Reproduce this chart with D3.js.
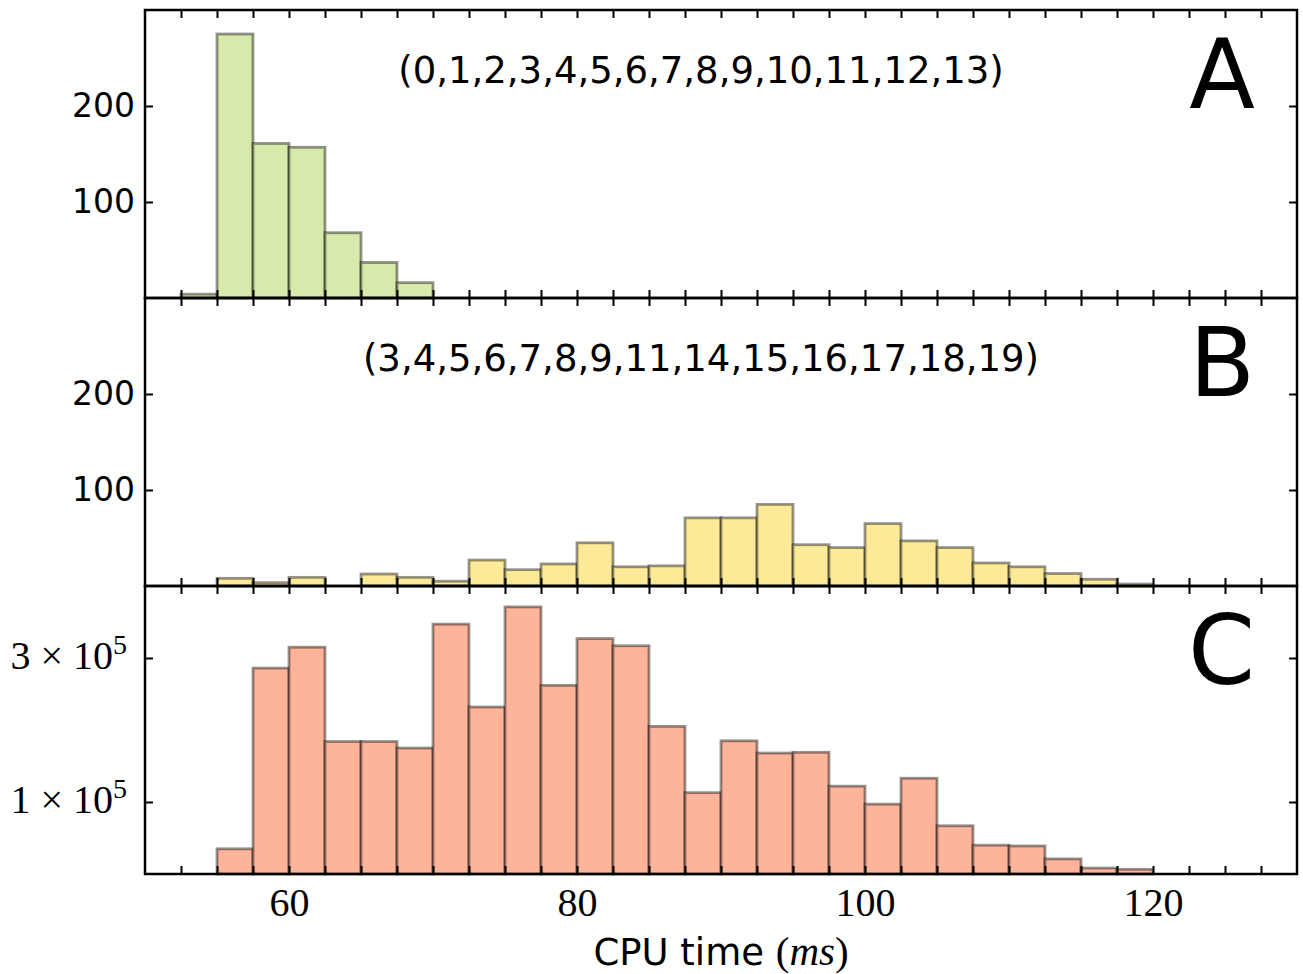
<!DOCTYPE html>
<html>
<head>
<meta charset="utf-8">
<script src="https://cdn.jsdelivr.net/npm/d3@7"></script>
<style>
  body { margin: 0; background: #fff; }
  .axis path.domain { display: none; }
  .axis line { stroke: #000; stroke-width: 2; }
</style>
</head>
<body>
<svg id="chart"></svg>
<script>

// histogram bins (left edges), width 2.5 ms
var binStarts = [52.5, 55, 57.5, 60, 62.5, 65, 67.5, 70, 72.5, 75, 77.5, 80, 82.5, 85,
                 87.5, 90, 92.5, 95, 97.5, 100, 102.5, 105, 107.5, 110, 112.5, 115, 117.5, 120];
var binWidth = 2.5;

var countsA = [4, 275, 161, 157, 68, 37, 16, 0, 0, 0, 0, 0, 0, 0,
               0, 0, 0, 0, 0, 0, 0, 0, 0, 0, 0, 0, 0, 0];
var countsB = [0, 8, 3.5, 9, 0, 12.5, 9, 5, 27, 17, 23, 45, 20, 21,
               71, 71, 85, 43, 40, 65, 47, 40, 24, 20, 13, 7, 2, 0];
var countsC = [0, 35000, 286000, 315000, 184000, 184000, 175000, 347000, 232000, 371000, 262000, 327000, 317000, 205000,
               113000, 185000, 168000, 169000, 122000, 97000, 133000, 67000, 40000, 39000, 21000, 8300, 6500, 0];

var xTickValues = [52.5, 55, 57.5, 60, 62.5, 65, 67.5, 70, 72.5, 75, 77.5, 80, 82.5, 85, 87.5, 90,
                   92.5, 95, 97.5, 100, 102.5, 105, 107.5, 110, 112.5, 115, 117.5, 120, 122.5, 125, 127.5];
var xLabelValues = [60, 80, 100, 120];
var yTicksCount = [100, 200];
var yTicksC = [100000, 300000];
var yLabelsC = [{v: 100000, mant: '1'}, {v: 300000, mant: '3'}];

var panelLetters = ['A', 'B', 'C'];
var panelNotes = ['(0,1,2,3,4,5,6,7,8,9,10,11,12,13)', '(3,4,5,6,7,8,9,11,14,15,16,17,18,19)', ''];
var panelColors = ['#d7eaab', '#fdea98', '#fdb49b'];

var svgW = 1303, svgH = 974;
var margin = {top: 10, right: 6, bottom: 100, left: 145};
var width = svgW - margin.left - margin.right;
var panelH = 288;

var svg = d3.select('#chart')
    .attr('width', svgW)
    .attr('height', svgH);

var x = d3.scaleLinear().domain([50, 130]).range([0, width]);

var panels = [
    {data: countsA, y: d3.scaleLinear().domain([0, 300]).range([panelH, 0]), ticks: yTicksCount},
    {data: countsB, y: d3.scaleLinear().domain([0, 300]).range([panelH, 0]), ticks: yTicksCount},
    {data: countsC, y: d3.scaleLinear().domain([0, 400000]).range([panelH, 0]), ticks: yTicksC}
];

panels.forEach(function (p, i) {
    var g = svg.append('g')
        .attr('transform', 'translate(' + margin.left + ',' + (margin.top + i * panelH) + ')');

    var bins = binStarts.map(function (s, k) { return {x0: s, x1: s + binWidth, v: p.data[k]}; })
        .filter(function (d) { return d.v > 0; });

    g.append('g').selectAll('rect')
        .data(bins)
        .enter().append('rect')
        .attr('x', function (d) { return x(d.x0); })
        .attr('width', function (d) { return x(d.x1) - x(d.x0); })
        .attr('y', function (d) { return p.y(d.v); })
        .attr('height', function (d) { return p.y(0) - p.y(d.v); })
        .attr('fill', panelColors[i])
        .attr('stroke', 'rgba(0,0,0,0.42)')
        .attr('stroke-width', 2.8);

    // inward ticks on all four sides
    g.append('g').attr('class', 'axis')
        .attr('transform', 'translate(0,' + panelH + ')')
        .call(d3.axisBottom(x).tickValues(xTickValues).tickSize(-8).tickSizeOuter(0).tickFormat(''));
    g.append('g').attr('class', 'axis')
        .call(d3.axisTop(x).tickValues(xTickValues).tickSize(-8).tickSizeOuter(0).tickFormat(''));
    g.append('g').attr('class', 'axis')
        .attr('transform', 'translate(' + width + ',0)')
        .call(d3.axisRight(p.y).tickValues(p.ticks).tickSize(-8).tickSizeOuter(0).tickFormat(''));

    var left = g.append('g').attr('class', 'axis');
    if (i < 2) {
        left.call(d3.axisLeft(p.y).tickValues(p.ticks).tickSize(-8).tickSizeOuter(0).tickPadding(10).tickFormat(d3.format('d')));
        left.selectAll('text')
            .attr('font-family', 'DejaVu Sans')
            .attr('font-size', 33)
            .attr('fill', '#000');
    } else {
        left.call(d3.axisLeft(p.y).tickValues(p.ticks).tickSize(-8).tickSizeOuter(0).tickFormat(''));
        left.selectAll('text').remove();
        var lab = g.append('g').selectAll('text')
            .data(yLabelsC)
            .enter().append('text')
            .attr('x', -18)
            .attr('y', function (d) { return p.y(d.v) + 11; })
            .attr('text-anchor', 'end')
            .attr('font-family', 'Liberation Serif')
            .attr('font-size', 40);
        lab.append('tspan').text(function (d) { return d.mant + ' \u00d7 10'; });
        lab.append('tspan').attr('dy', -15).attr('font-size', 28).text('5');
    }

    // frame
    g.append('rect')
        .attr('width', width)
        .attr('height', panelH)
        .attr('fill', 'none')
        .attr('stroke', '#000')
        .attr('stroke-width', 2.5);

    g.append('text')
        .attr('x', 1255 - margin.left)
        .attr('y', 98)
        .attr('text-anchor', 'end')
        .attr('font-family', 'DejaVu Sans')
        .attr('font-size', 96)
        .text(panelLetters[i]);

    if (panelNotes[i]) {
        g.append('text')
            .attr('x', 701 - margin.left)
            .attr('y', 73)
            .attr('text-anchor', 'middle')
            .attr('font-family', 'DejaVu Sans')
            .attr('font-size', 37)
            .text(panelNotes[i]);
    }

    if (i === 2) {
        var xl = g.append('g').attr('class', 'axis')
            .attr('transform', 'translate(0,' + panelH + ')')
            .call(d3.axisBottom(x).tickValues(xLabelValues).tickSize(0).tickPadding(14).tickFormat(d3.format('d')));
        xl.selectAll('line').remove();
        xl.selectAll('text')
            .attr('font-family', 'Liberation Serif')
            .attr('font-size', 40)
            .attr('fill', '#000');
    }
});

// x axis title
var title = svg.append('text')
    .attr('x', margin.left + width / 2)
    .attr('y', 965)
    .attr('text-anchor', 'middle')
    .attr('font-size', 37);
title.append('tspan').attr('font-family', 'DejaVu Sans').text('CPU time ');
title.append('tspan').attr('font-family', 'Liberation Serif').attr('font-size', 41).text('(');
title.append('tspan').attr('font-family', 'Liberation Serif').attr('font-size', 41).attr('font-style', 'italic').text('ms');
title.append('tspan').attr('font-family', 'Liberation Serif').attr('font-size', 41).text(')');

</script>
</body>
</html>
